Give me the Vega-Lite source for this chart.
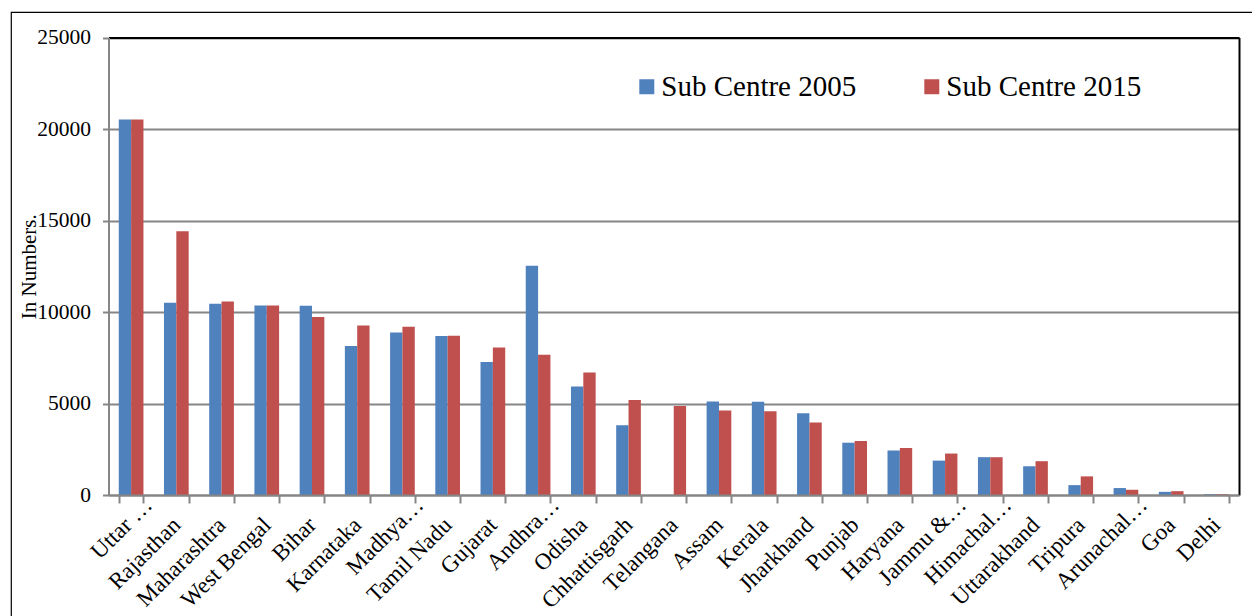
{
  "$schema": "https://vega.github.io/schema/vega-lite/v6.json",
  "width": 1250,
  "height": 620,
  "autosize": {"type": "none"},
  "padding": {"left": 11, "top": 12, "right": -9, "bottom": -16},
  "background": "white",
  "config": {
    "font": "Liberation Serif",
    "view": {"stroke": "black", "strokeWidth": 1.2}
  },
  "data": {
    "values": [
      {"State": "Uttar …", "Series": "Sub Centre 2005", "Value": 20521},
      {"State": "Uttar …", "Series": "Sub Centre 2015", "Value": 20521},
      {"State": "Rajasthan", "Series": "Sub Centre 2005", "Value": 10512},
      {"State": "Rajasthan", "Series": "Sub Centre 2015", "Value": 14407},
      {"State": "Maharashtra", "Series": "Sub Centre 2005", "Value": 10453},
      {"State": "Maharashtra", "Series": "Sub Centre 2015", "Value": 10580},
      {"State": "West Bengal", "Series": "Sub Centre 2005", "Value": 10356},
      {"State": "West Bengal", "Series": "Sub Centre 2015", "Value": 10357},
      {"State": "Bihar", "Series": "Sub Centre 2005", "Value": 10337},
      {"State": "Bihar", "Series": "Sub Centre 2015", "Value": 9729},
      {"State": "Karnataka", "Series": "Sub Centre 2005", "Value": 8143},
      {"State": "Karnataka", "Series": "Sub Centre 2015", "Value": 9264},
      {"State": "Madhya…", "Series": "Sub Centre 2005", "Value": 8874},
      {"State": "Madhya…", "Series": "Sub Centre 2015", "Value": 9192},
      {"State": "Tamil Nadu", "Series": "Sub Centre 2005", "Value": 8682},
      {"State": "Tamil Nadu", "Series": "Sub Centre 2015", "Value": 8706},
      {"State": "Gujarat", "Series": "Sub Centre 2005", "Value": 7274},
      {"State": "Gujarat", "Series": "Sub Centre 2015", "Value": 8063},
      {"State": "Andhra…", "Series": "Sub Centre 2005", "Value": 12522},
      {"State": "Andhra…", "Series": "Sub Centre 2015", "Value": 7659},
      {"State": "Odisha", "Series": "Sub Centre 2005", "Value": 5927},
      {"State": "Odisha", "Series": "Sub Centre 2015", "Value": 6688},
      {"State": "Chhattisgarh", "Series": "Sub Centre 2005", "Value": 3818},
      {"State": "Chhattisgarh", "Series": "Sub Centre 2015", "Value": 5186},
      {"State": "Telangana", "Series": "Sub Centre 2005", "Value": null},
      {"State": "Telangana", "Series": "Sub Centre 2015", "Value": 4863},
      {"State": "Assam", "Series": "Sub Centre 2005", "Value": 5109},
      {"State": "Assam", "Series": "Sub Centre 2015", "Value": 4621},
      {"State": "Kerala", "Series": "Sub Centre 2005", "Value": 5094},
      {"State": "Kerala", "Series": "Sub Centre 2015", "Value": 4575},
      {"State": "Jharkhand", "Series": "Sub Centre 2005", "Value": 4462},
      {"State": "Jharkhand", "Series": "Sub Centre 2015", "Value": 3958},
      {"State": "Punjab", "Series": "Sub Centre 2005", "Value": 2858},
      {"State": "Punjab", "Series": "Sub Centre 2015", "Value": 2951},
      {"State": "Haryana", "Series": "Sub Centre 2005", "Value": 2433},
      {"State": "Haryana", "Series": "Sub Centre 2015", "Value": 2569},
      {"State": "Jammu &…", "Series": "Sub Centre 2005", "Value": 1879},
      {"State": "Jammu &…", "Series": "Sub Centre 2015", "Value": 2265},
      {"State": "Himachal…", "Series": "Sub Centre 2005", "Value": 2068},
      {"State": "Himachal…", "Series": "Sub Centre 2015", "Value": 2065},
      {"State": "Uttarakhand", "Series": "Sub Centre 2005", "Value": 1576},
      {"State": "Uttarakhand", "Series": "Sub Centre 2015", "Value": 1847},
      {"State": "Tripura", "Series": "Sub Centre 2005", "Value": 539},
      {"State": "Tripura", "Series": "Sub Centre 2015", "Value": 1017},
      {"State": "Arunachal…", "Series": "Sub Centre 2005", "Value": 379},
      {"State": "Arunachal…", "Series": "Sub Centre 2015", "Value": 286},
      {"State": "Goa", "Series": "Sub Centre 2005", "Value": 172},
      {"State": "Goa", "Series": "Sub Centre 2015", "Value": 209},
      {"State": "Delhi", "Series": "Sub Centre 2005", "Value": 41},
      {"State": "Delhi", "Series": "Sub Centre 2015", "Value": 41}
    ]
  },
  "layer": [
    {
      "mark": {"type": "bar"},
      "encoding": {
        "x": {
          "field": "State",
          "type": "nominal",
          "sort": null,
          "scale": {"range": [97.5, 1228], "paddingInner": 0.454, "paddingOuter": 0.227},
          "axis": {
            "orient": "bottom",
            "offset": -137,
            "title": null,
            "labelAngle": -45,
            "labelAlign": "right",
            "labelBaseline": "middle",
            "labelFontSize": 23,
            "labelColor": "black",
            "labelPadding": {"condition": {"test": "indexof(datum.label, '…') >= 0", "value": -2}, "value": 18},
            "labelOffset": {"condition": {"test": "indexof(datum.label, '…') >= 0", "value": 17}, "value": 0},
            "labelOverlap": false,
            "labelLimit": 0,
            "tickBand": "extent",
            "tickSize": 8,
            "tickWidth": 2,
            "tickColor": "#868686",
            "domainColor": "#868686",
            "domainWidth": 2,
            "zindex": 1
          }
        },
        "xOffset": {
          "field": "Series",
          "type": "nominal",
          "sort": ["Sub Centre 2005", "Sub Centre 2015"],
          "scale": {"paddingInner": 0, "paddingOuter": 0}
        },
        "y": {
          "field": "Value",
          "type": "quantitative",
          "scale": {"domain": [0, 25000], "range": [483, 25.5], "nice": false},
          "axis": {
            "orient": "left",
            "offset": -97.5,
            "values": [0, 5000, 10000, 15000, 20000, 25000],
            "format": "d",
            "grid": true,
            "gridColor": "#868686",
            "gridWidth": 2,
            "domainColor": "#868686",
            "domainWidth": 2,
            "tickColor": "#868686",
            "tickWidth": 2,
            "tickSize": 6,
            "labelFontSize": 21.5,
            "labelPadding": 12,
            "labelColor": "black",
            "title": "In Numbers.",
            "titleFontSize": 21,
            "titleFontWeight": "normal",
            "titleColor": "black",
            "titleAngle": -90,
            "titleX": -73,
            "titleY": 254.25,
            "titleBaseline": "alphabetic"
          }
        },
        "color": {
          "field": "Series",
          "type": "nominal",
          "scale": {"domain": ["Sub Centre 2005", "Sub Centre 2015"], "range": ["#4F81BD", "#C0504D"]},
          "legend": {
            "orient": "none",
            "legendX": 621.3,
            "legendY": 60,
            "direction": "horizontal",
            "title": null,
            "symbolType": "square",
            "symbolSize": 225,
            "symbolStrokeWidth": 0,
            "labelFontSize": 29,
            "labelColor": "black",
            "labelOffset": 0,
            "columnPadding": 61,
            "padding": 0,
            "labelLimit": 0
          }
        }
      }
    },
    {
      "mark": {"type": "point", "opacity": 0},
      "encoding": {
        "x": {
          "field": "State",
          "type": "nominal",
          "sort": null,
          "axis": {"orient": "top", "offset": -25.5, "labels": false, "ticks": false, "grid": false, "title": null, "domainColor": "black", "domainWidth": 2}
        },
        "y": {
          "field": "Value",
          "type": "quantitative",
          "axis": {"orient": "right", "offset": -22, "labels": false, "ticks": false, "grid": false, "title": null, "domainColor": "black", "domainWidth": 2}
        }
      }
    }
  ],
  "resolve": {"axis": {"x": "independent", "y": "independent"}}
}
